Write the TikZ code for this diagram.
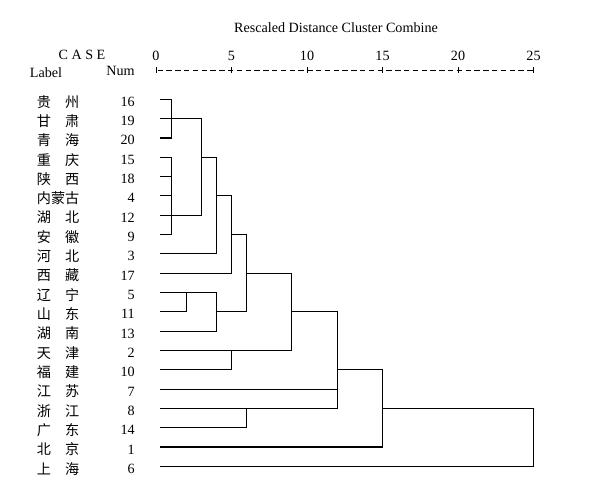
\documentclass[tikz,border=0pt]{standalone}
\usepackage{fontspec}
\setmainfont{Liberation Serif}
\newfontfamily\cjk{Noto Sans CJK SC}

% merge point: name, rescaled distance, row
\newcommand{\mergeat}[3]{\coordinate (#1) at ({156+15.1*#2},{99.3+(#3-1)*19.32});}

\begin{document}
\begin{tikzpicture}[
    x=0.75pt, y=-0.75pt,
    txt/.style={font=\fontsize{10.6}{12}\selectfont, inner sep=0pt},
    prov/.style={txt, font=\cjk\fontsize{10.6}{12}\selectfont, anchor=west},
    numlab/.style={txt, anchor=east},
    link/.style={line width=0.85pt, black},
    axisline/.style={line width=0.55pt},
  ]
    \useasboundingbox (0,0) rectangle (594,489);

    % header
    \node[txt] (title) at (336,27.5) {Rescaled Distance Cluster Combine};
    \node[txt] (case) at (82,55) {C A S E};
    \node[txt] (label) at (46,73) {Label};
    \node[numlab] (numhead) at (135,71) {Num};

    % scale
    \foreach \d in {0,5,...,25} {
      \node[txt] (t\d) at ({156+15.1*\d},55.5) {\d};
      \coordinate (k\d) at ({156+15.1*\d},70);
      \draw[axisline] ([yshift=-2pt]k\d) -- ([yshift=2pt]k\d);
    }
    \draw[axisline, dash pattern=on 4pt off 2.6pt, dash phase=-1.2pt] (k0) -- (k25);

    % cases
    \foreach \nm/\n [count=\i] in {{贵\hfill 州}/16, {甘\hfill 肃}/19, {青\hfill 海}/20,
        {重\hfill 庆}/15, {陕\hfill 西}/18, {内蒙古}/4, {湖\hfill 北}/12, {安\hfill 徽}/9,
        {河\hfill 北}/3, {西\hfill 藏}/17, {辽\hfill 宁}/5, {山\hfill 东}/11, {湖\hfill 南}/13,
        {天\hfill 津}/2, {福\hfill 建}/10, {江\hfill 苏}/7, {浙\hfill 江}/8, {广\hfill 东}/14,
        {北\hfill 京}/1, {上\hfill 海}/6} {
      \node[prov] (p\n) at (36.7,{99.3+(\i-1)*19.32+2.4}) {\makebox[3em][s]{\nm}};
      \node[numlab] (n\n) at (135,{99.3+(\i-1)*19.32+2.4}) {\n};
      \coordinate (c\n) at (160,{99.3+(\i-1)*19.32});
    }

    % merges
    \mergeat{mA}{1}{2}
    \mergeat{mB}{1}{7}
    \mergeat{mAB}{3}{4}
    \mergeat{mC}{4}{6}
    \mergeat{mD}{5}{8}
    \mergeat{mE}{2}{11}
    \mergeat{mF}{4}{12}
    \mergeat{mG}{6}{10}
    \mergeat{mH}{5}{14}
    \mergeat{mI}{9}{12}
    \mergeat{mJ}{6}{17}
    \mergeat{mK}{12}{15}
    \mergeat{mL}{15}{17}
    \mergeat{mM}{25}{18}

    \foreach \a/\b in {c16/mA, c19/mA, c20/mA,
        c15/mB, c18/mB, c4/mB, c12/mB, c9/mB,
        mA/mAB, mB/mAB, mAB/mC, c3/mC, mC/mD, c17/mD,
        c5/mE, c11/mE, mE/mF, c13/mF, mD/mG, mF/mG,
        c2/mH, c10/mH, mG/mI, mH/mI,
        c8/mJ, c14/mJ, mI/mK, c7/mK, mJ/mK,
        mK/mL, c1/mL, mL/mM, c6/mM}
      \draw[link] (\a) -| (\b);
  \end{tikzpicture}
\end{document}
